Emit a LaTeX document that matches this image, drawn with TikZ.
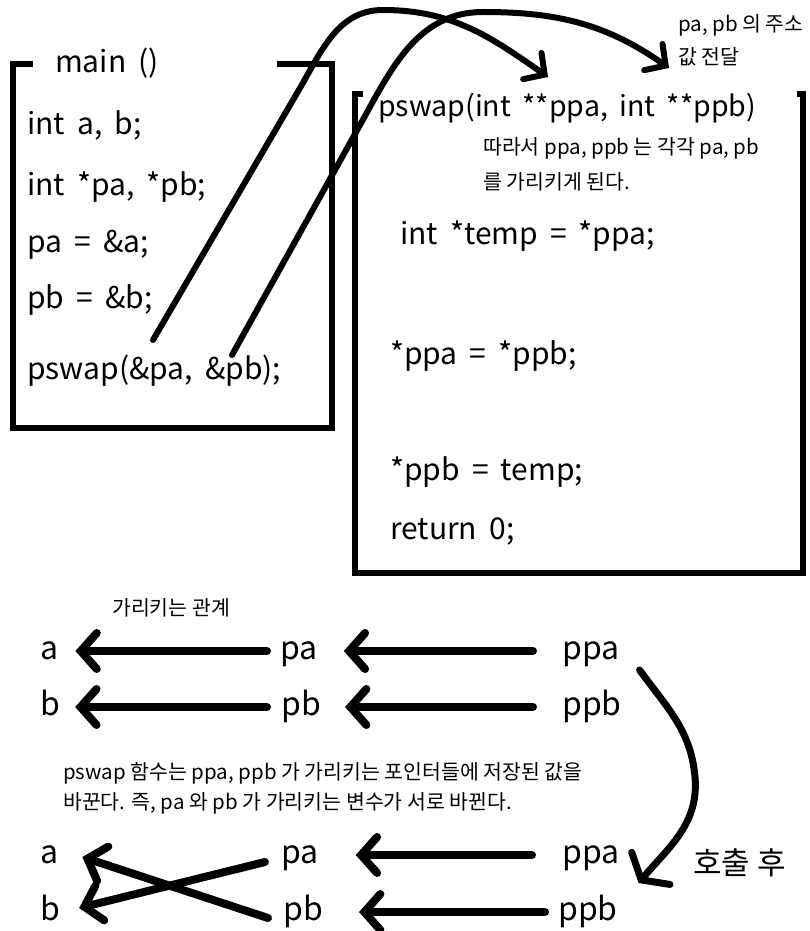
\documentclass[tikz,border=0pt]{standalone}
\usepackage{fontspec}
\setmainfont{Noto Sans CJK KR}
\newfontfamily\codefont[WordSpace=1.8]{Noto Sans CJK KR}
\usepackage{tikz}
\usetikzlibrary{
  arrows.meta,
  positioning
}
\tikzset{
  codeline/.style={
    anchor=west,
    inner sep=0pt,
    font=\codefont\fontsize{30}{36}\selectfont,
    text height=23pt,
    text depth=6pt
  },
  codehdr/.style={
    codeline,
    font=\codefont\fontsize{28.5}{34}\selectfont
  },
  varlabel/.style={
    anchor=west,
    inner sep=0pt,
    font=\fontsize{32}{36}\selectfont,
    text height=24pt,
    text depth=7pt
  },
  notetext/.style={
    anchor=west,
    inner sep=0pt,
    font=\fontsize{20.5}{24}\selectfont
  },
  boxline/.style={
    line width=6pt,
    line join=miter
  },
  passarrow/.style={
    -{Straight Barb[length=15pt,width=32pt,line cap=round]},
    line width=6pt,
    line cap=round
  },
  ptrarrow/.style={
    -{Straight Barb[length=16pt,width=36pt,line cap=round]},
    line width=8pt,
    line cap=round
  },
  callarrow/.style={
    -{Straight Barb[length=15pt,width=50pt,line cap=round]},
    line width=7pt,
    line cap=round
  }
}

\begin{document}
\begin{tikzpicture}[x=1pt,y=-1pt]
  \useasboundingbox (0,0) rectangle (810,931);

  % main 함수
  \draw[boxline] (33,64) -- (13,64) -- (13,428) -- (332,428) -- (332,64) -- (277,64);
  \node[codeline] (mainhdr) at (55,64) {main ()};
  \foreach \y/\code [count=\i] in {126/{int a, b;}, 187/{int *pa, *pb;},
      244/{pa = \&a;}, 300/{pb = \&b;}, 371/{pswap(\&pa, \&pb);}}
    \node[codeline] (mainln\i) at (27,\y) {\code};

  % pswap 함수
  \draw[boxline] (363,94) -- (355,94) -- (355,573) -- (803,573) -- (803,94) -- (797,94);
  \node[codehdr] (pswaphdr) at (378,108) {pswap(int **ppa, int **ppb)};
  \node[notetext] (note1) at (483,148) {따라서 ppa, ppb 는 각각 pa, pb};
  \node[notetext] (note2) at (483,182) {를 가리키게 된다.};
  \node[codeline] (tmpln) at (400,236) {int *temp = *ppa;};
  \node[codeline] (swapln1) at (390,356) {*ppa = *ppb;};
  \node[codeline] (swapln2) at (390,472) {*ppb = temp;};
  \node[codeline] (retln) at (390,531) {return 0;};

  \node[notetext] (passnote1) at (678,25) {pa, pb 의 주소};
  \node[notetext] (passnote2) at (678,57) {값 전달};

  % 주소 전달
  \coordinate (argpa) at (153,340);
  \coordinate (argpb) at (232,355);
  \coordinate (parppa) at (548,77);
  \coordinate (parppb) at (669,68);
  \draw[passarrow] (argpa) -- (300,88) to[out=60,in=180] (383,10) to[out=0,in=145] (parppa);
  \draw[passarrow] (argpb) -- (360,125) to[out=61,in=180] (483,12) to[out=0,in=145] (parppb);

  % 가리키는 관계
  \node[notetext] (relnote) at (112,608) {가리키는 관계};
  \node[varlabel] (a1) at (40,651) {a};
  \node[varlabel] (pa1) at (280,651) {pa};
  \node[varlabel] (ppa1) at (562,651) {ppa};
  \node[varlabel] (b1) at (40,707) {b};
  \node[varlabel] (pb1) at (281,707) {pb};
  \node[varlabel] (ppb1) at (562,707) {ppb};
  \draw[ptrarrow] ([xshift=-13pt]pa1.west) -- ([xshift=17pt]a1.east);
  \draw[ptrarrow] ([xshift=-29pt]ppa1.west) -- ([xshift=26pt]pa1.east);
  \draw[ptrarrow] ([xshift=-14pt]pb1.west) -- ([xshift=15pt]b1.east);
  \draw[ptrarrow] ([xshift=-29pt]ppb1.west) -- ([xshift=24pt]pb1.east);

  \node[notetext] (swapnote1) at (63,773) {pswap 함수는 ppa, ppb 가 가리키는 포인터들에 저장된 값을};
  \node[notetext] (swapnote2) at (63,803) {바꾼다. 즉, pa 와 pb 가 가리키는 변수가 서로 바뀐다.};

  % 호출 후
  \node[varlabel] (a2) at (40,855) {a};
  \node[varlabel] (pa2) at (281,855) {pa};
  \node[varlabel] (ppa2) at (562,855) {ppa};
  \node[varlabel] (b2) at (40,912) {b};
  \node[varlabel] (pb2) at (283,912) {pb};
  \node[varlabel] (ppb2) at (558,912) {ppb};
  \draw[ptrarrow] ([xshift=-30pt]ppa2.west) -- ([xshift=37pt]pa2.east);
  \draw[ptrarrow] ([xshift=-13pt]ppb2.west) -- ([xshift=36pt]pb2.east);
  \draw[ptrarrow] ([xshift=-16pt,yshift=-7pt]pa2.west) -- ([xshift=19pt,yshift=4pt]b2.east);
  \draw[ptrarrow] ([xshift=-15pt,yshift=-6pt]pb2.west) -- ([xshift=24pt,yshift=-2pt]a2.east);

  \coordinate (callstart) at ([xshift=20pt,yshift=-19pt]ppa1.east);
  \coordinate (callend) at ([xshift=19pt,yshift=-28pt]ppa2.east);
  \draw[callarrow] (callstart) to[out=-54,in=95] (695,777) to[out=-85,in=50] (callend);
  \node[anchor=west, inner sep=0pt, font=\fontsize{31}{36}\selectfont] (aftercall) at (693,863) {호출 후};
\end{tikzpicture}
\end{document}
